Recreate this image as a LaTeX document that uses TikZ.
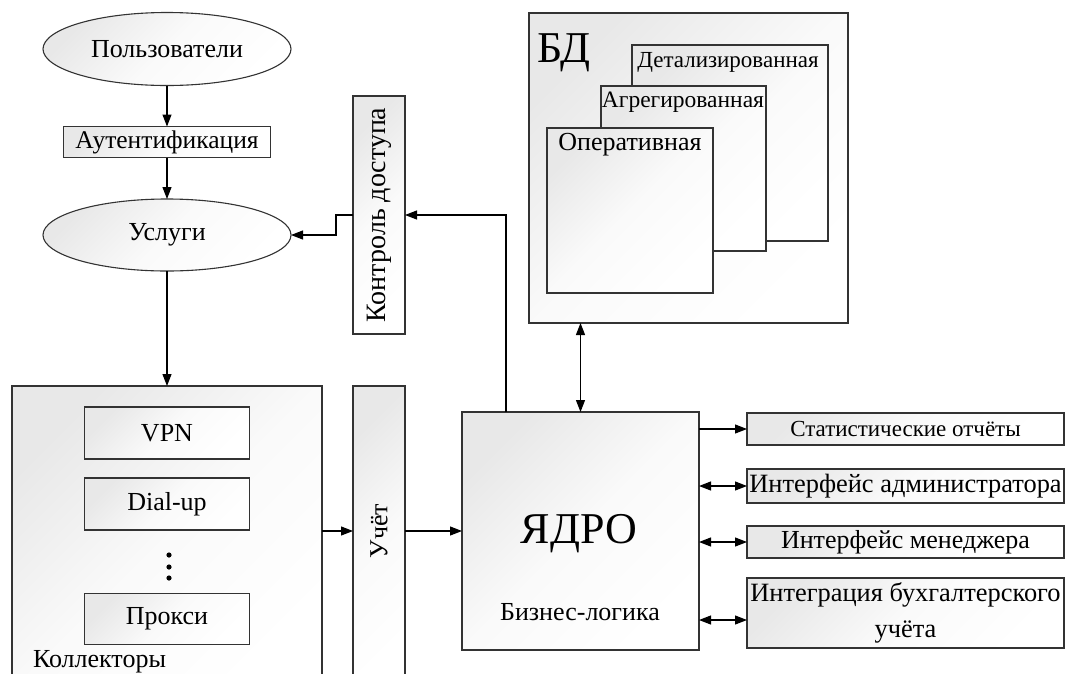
\documentclass[tikz,border=0pt]{standalone}
\usepackage{fontspec}
\setmainfont{Liberation Serif}
\usetikzlibrary{arrows.meta,shapes.geometric,calc}
\begin{document}
\begin{tikzpicture}[x=1pt,y=-1pt,
  every node/.style={inner sep=0pt, outer sep=0pt},
  sh/.style={draw=black!80, line width=1.1pt, top color=black!9, bottom color=white, middle color=black!2, shading angle=45},
  box/.style={sh, rectangle},
  ell/.style={sh, ellipse},
  arr/.style={line width=1.1pt, -{Triangle[length=12pt,width=9pt]}},
  darr/.style={line width=1.1pt, {Triangle[length=12pt,width=9pt]}-{Triangle[length=12pt,width=9pt]}},
  t23/.style={font=\fontsize{23}{27}\selectfont},
  t26/.style={font=\fontsize{26}{34}\selectfont},
  t44/.style={font=\fontsize{44}{50}\selectfont}
]
\clip (0,0) rectangle (1066,673);
\useasboundingbox (0,0) rectangle (1066,673);

% left column
\node[ell, t26, minimum width=248, minimum height=73] (users) at (167,49) {Пользователи};
\node[box, font=\fontsize{25.5}{30}\selectfont, minimum width=207, minimum height=31] (auth) at (167,142) {Аутентификация};
\node[ell, t26, minimum width=248, minimum height=72] (usl) at (167,235) {Услуги};

\node[box, minimum width=310, minimum height=304, anchor=north west] (koll) at (12,386) {};
\node[t26, anchor=base west] (kolltxt) at (33,667) {Коллекторы};
\node[box, t26, minimum width=165, minimum height=52] (vpn) at (167,433) {VPN};
\node[box, t26, minimum width=165, minimum height=52] (dial) at (167,504) {Dial-up};
\node[box, t26, minimum width=165, minimum height=51] (proxy) at (167,619) {Прокси};
\fill (169,555) circle (2.6) (169,567) circle (2.6) (169,578) circle (2.6);

% middle column
\node[box, font=\fontsize{28}{34}\selectfont, minimum width=52, minimum height=238] (kd) at (379,215) {\rotatebox{90}{Контроль доступа}};
\node[box, minimum width=52, minimum height=304, anchor=north west] (uchet) at (353,386) {};
\node[t26] (uchettxt) at (379,531) {\rotatebox{90}{Учёт}};

% core
\node[box, minimum width=237, minimum height=238] (yadro) at (580.5,531) {};
\node[t44, anchor=base] (yadrotxt) at (579,543) {ЯДРО};
\node[t26, anchor=base] (biz) at (580,620) {Бизнес-логика};

% database
\node[box, minimum width=319, minimum height=310] (bd) at (688.5,168) {};
\node[t44, anchor=base west] (bdtxt) at (537,62) {БД};
\node[box, minimum width=196, minimum height=196] (det) at (730,143) {};
\node[t23, anchor=base] (dettxt) at (728,67) {Детализированная};
\node[box, minimum width=165, minimum height=165] (agr) at (683.5,168.5) {};
\node[font=\fontsize{23.5}{28}\selectfont, anchor=base] (agrtxt) at (683,107) {Агрегированная};
\node[box, minimum width=166, minimum height=165] (oper) at (630,210.5) {};
\node[t26, anchor=base] (opertxt) at (630,150) {Оперативная};

% right column
\node[box, t23, minimum width=317, minimum height=32] (stat) at (905.5,429) {Статистические отчёты};
\node[box, font=\fontsize{26.4}{34}\selectfont, minimum width=317, minimum height=34] (admin) at (905.5,486) {Интерфейс администратора};
\node[box, t26, minimum width=317, minimum height=32] (mgr) at (905.5,542) {Интерфейс менеджера};
\node[box, font=\fontsize{26.4}{36}\selectfont, minimum width=317, minimum height=70, align=center] (integ) at (905.5,613) {Интеграция бухгалтерского\\учёта};

% connectors
\draw[arr] (users) -- (auth);
\draw[arr] (auth) -- (usl);
\draw[arr] (usl) -- (koll);
\draw[arr] (kd.west) -- ++(-17,0) |- (usl.east);
\draw[arr] ($(yadro.north west)+(44,0)$) |- (kd.east);
\draw[darr] (bd.south -| yadro.north) -- (yadro.north);
\draw[arr] (koll.east |- yadro.west) -- (uchet.west |- yadro.west);
\draw[arr] (uchet.east |- yadro.west) -- (yadro.west);
\draw[arr] (yadro.east |- stat.west) -- (stat.west);
\draw[darr] (yadro.east |- admin.west) -- (admin.west);
\draw[darr] (yadro.east |- mgr.west) -- (mgr.west);
\coordinate (integin) at ($(integ.west)+(0,7)$);
\draw[darr] (yadro.east |- integin) -- (integin);
\end{tikzpicture}
\end{document}
